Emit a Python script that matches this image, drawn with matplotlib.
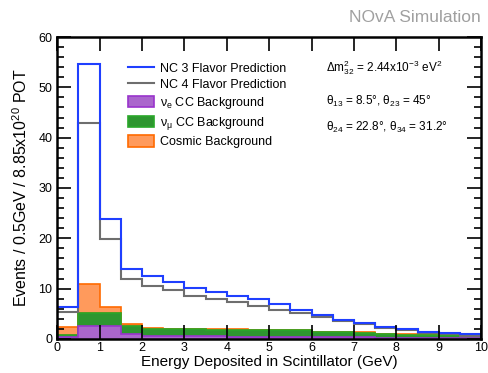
import numpy as np
import matplotlib
matplotlib.use("Agg")
import matplotlib.pyplot as plt
from matplotlib.lines import Line2D
from matplotlib.patches import Patch
from matplotlib.ticker import MultipleLocator

plt.rcParams['font.family'] = ['Liberation Sans', 'DejaVu Sans']
plt.rcParams['mathtext.fontset'] = 'custom'
plt.rcParams['mathtext.rm'] = 'Liberation Sans'
plt.rcParams['mathtext.it'] = 'Liberation Sans'
plt.rcParams['mathtext.sf'] = 'Liberation Sans'

# bin edges in GeV (0.5 GeV bins)
edges = np.arange(0, 10.5, 0.5)

nc_3flavor = [6.4, 54.7, 23.9, 13.9, 12.6, 11.4, 10.2, 9.3, 8.6, 7.95,
              7.0, 5.8, 4.8, 3.8, 3.2, 2.45, 2.0, 1.45, 1.25, 0.93]
nc_4flavor = [5.3, 43.0, 19.9, 11.9, 10.6, 9.7, 8.6, 8.0, 7.35, 6.65,
              5.8, 5.1, 4.4, 3.6, 3.0, 2.25, 1.7, 1.2, 1.0, 0.65]
nue_cc = [0.3, 2.65, 2.65, 0.9, 0.6, 0.5, 0.5, 0.5, 0.45, 0.45,
          0.4, 0.35, 0.35, 0.3, 0.3, 0.25, 0.2, 0.2, 0.15, 0.15]
numu_cc = [0.5, 2.45, 2.55, 1.7, 1.45, 1.4, 1.4, 1.35, 1.4, 1.35,
           1.35, 1.35, 1.05, 1.0, 0.95, 0.75, 0.65, 0.55, 0.55, 0.5]
cosmic = [1.5, 5.8, 1.1, 0.3, 0.15, 0.1, 0.05, 0.05, 0.05, 0.05,
          0.05, 0.05, 0.05, 0.05, 0.05, 0.05, 0.05, 0.05, 0.02, 0.02]

fig = plt.figure(figsize=(4.88, 3.73), dpi=100)
ax = fig.add_axes([0.117, 0.0912, 0.869, 0.8096])

# stacked backgrounds
lvl1 = np.array(nue_cc)
lvl2 = lvl1 + np.array(numu_cc)
lvl3 = lvl2 + np.array(cosmic)
ax.stairs(lvl3, edges, baseline=lvl2, fill=True, facecolor='#ff9a5c', edgecolor='#ff6a00', lw=1.2)
ax.stairs(lvl2, edges, baseline=lvl1, fill=True, facecolor='#2e9630', edgecolor='#2aa82a', lw=1.2)
ax.stairs(lvl1, edges, baseline=0, fill=True, facecolor='#aa66cc', edgecolor='#9933cc', lw=1.2)

ax.stairs(nc_4flavor, edges, color='#6e6e6e', lw=1.5)
ax.stairs(nc_3flavor, edges, color='#1f3fff', lw=1.5)

ax.set_xlim(0, 10)
ax.set_ylim(0, 60)
ax.xaxis.set_major_locator(MultipleLocator(1))
ax.yaxis.set_major_locator(MultipleLocator(10))
ax.yaxis.set_minor_locator(MultipleLocator(2))
ax.tick_params(which='both', direction='in', top=True, right=True, labelsize=9, width=1.2)
ax.tick_params(which='major', length=10)
ax.tick_params(which='minor', length=5)
ax.tick_params(axis='x', pad=2)
for s in ax.spines.values():
    s.set_linewidth(1.8)

ax.set_xlabel('Energy Deposited in Scintillator (GeV)', fontsize=11, labelpad=1)
ax.set_ylabel(r'Events / 0.5GeV / 8.85x10$^{20}$ POT', fontsize=11.5, labelpad=6)

handles = [Line2D([], [], color='#1f3fff', lw=1.5),
           Line2D([], [], color='#6e6e6e', lw=1.5),
           Patch(facecolor='#aa66cc', edgecolor='#9933cc', lw=1.2),
           Patch(facecolor='#2e9630', edgecolor='#2aa82a', lw=1.2),
           Patch(facecolor='#ff9a5c', edgecolor='#ff6a00', lw=1.2)]
labels = ['NC 3 Flavor Prediction', 'NC 4 Flavor Prediction',
          r'$\nu_e$ CC Background', r'$\nu_\mu$ CC Background', 'Cosmic Background']
ax.legend(handles, labels, loc='upper left', bbox_to_anchor=(0.155, 0.935), frameon=False,
          fontsize=9, handlelength=2.1, handleheight=1.0, handletextpad=0.45,
          labelspacing=0.3, borderaxespad=0)

ax.text(0.635, 0.897, r'$\Delta$m$^2_{32}$ = 2.44x10$^{-3}$ eV$^2$', transform=ax.transAxes,
        fontsize=8.5, va='center')
ax.text(0.635, 0.788, r'$\theta_{13}$ = 8.5$\degree$, $\theta_{23}$ = 45$\degree$', transform=ax.transAxes,
        fontsize=8.5, va='center')
ax.text(0.635, 0.702, r'$\theta_{24}$ = 22.8$\degree$, $\theta_{34}$ = 31.2$\degree$', transform=ax.transAxes,
        fontsize=8.5, va='center')

fig.text(0.986, 0.952, 'NOvA Simulation', color='#a0a0a0', fontsize=12.5, ha='right', va='center')

fig.savefig('out.png', dpi=100)
